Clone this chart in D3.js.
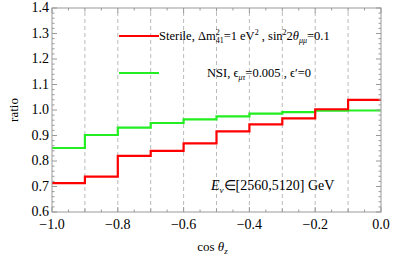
<!DOCTYPE html>
<html>
<head>
<meta charset="utf-8">
<script src="https://cdn.jsdelivr.net/npm/d3@7"></script>
<style>
  body { margin: 0; background: #fff; }
  text { font-family: "Liberation Serif", "Times New Roman", serif; fill: #000; }
</style>
</head>
<body>
<div id="chart"></div>
<script>
// bin edges in cos(theta_z)
const binEdges = [-1.0, -0.9, -0.8, -0.7, -0.6, -0.5, -0.4, -0.3, -0.2, -0.1, 0.0];
// ratio per bin
const sterile = [0.713, 0.739, 0.82, 0.84, 0.869, 0.916, 0.944, 0.967, 1.003, 1.04];
const nsi = [0.851, 0.902, 0.931, 0.949, 0.963, 0.975, 0.986, 0.992, 0.997, 0.998];
const xTicks = [-1.0, -0.8, -0.6, -0.4, -0.2, 0.0];
const yTicks = [0.6, 0.7, 0.8, 0.9, 1.0, 1.1, 1.2, 1.3, 1.4];

const width = 415, height = 260;
const margin = { top: 8, right: 34, bottom: 48, left: 52 };

const svg = d3.select("#chart").append("svg")
  .attr("width", width).attr("height", height);

const x = d3.scaleLinear().domain([-1, 0]).range([margin.left, width - margin.right]);
const y = d3.scaleLinear().domain([0.6, 1.4]).range([height - margin.bottom, margin.top]);

const frameColor = "#999";

// dashed verticals at inner bin edges
svg.append("g").selectAll("line")
  .data(binEdges.slice(1, -1))
  .join("line")
  .attr("x1", d => x(d)).attr("x2", d => x(d))
  .attr("y1", y(0.6)).attr("y2", y(1.4))
  .attr("stroke", "#bbb").attr("stroke-width", 1)
  .attr("stroke-dasharray", "4,3");

// step lines
function steps(vals) {
  const pts = [];
  vals.forEach((v, i) => {
    pts.push([binEdges[i], v]);
    pts.push([binEdges[i + 1], v]);
  });
  return pts;
}
const line = d3.line().x(d => x(d[0])).y(d => y(d[1]));

svg.append("path").datum(steps(nsi))
  .attr("d", line).attr("fill", "none")
  .attr("stroke", "#22ee22").attr("stroke-width", 2.2);
svg.append("path").datum(steps(sterile))
  .attr("d", line).attr("fill", "none")
  .attr("stroke", "#ff0000").attr("stroke-width", 2.2);

// frame
svg.append("rect")
  .attr("x", x(-1)).attr("y", y(1.4))
  .attr("width", x(0) - x(-1)).attr("height", y(0.6) - y(1.4))
  .attr("fill", "none").attr("stroke", frameColor).attr("stroke-width", 1);

// ticks: x major 0.2 minor 0.05, y major 0.1 minor 0.02
const xMinor = d3.range(0, 21).map(i => -1 + i * 0.05);
const yMinor = d3.range(0, 41).map(i => 0.6 + i * 0.02);
const isMaj = (v, s) => Math.abs(v / s - Math.round(v / s)) < 1e-6;

const tk = svg.append("g").attr("stroke", frameColor).attr("stroke-width", 1);
xMinor.forEach(v => {
  const len = isMaj(v, 0.2) ? 5 : (isMaj(v, 0.1) ? 3.5 : 2.5);
  tk.append("line").attr("x1", x(v)).attr("x2", x(v))
    .attr("y1", y(0.6)).attr("y2", y(0.6) - len);
  tk.append("line").attr("x1", x(v)).attr("x2", x(v))
    .attr("y1", y(1.4)).attr("y2", y(1.4) + len);
});
yMinor.forEach(v => {
  const len = isMaj(v, 0.1) ? 5 : 2.5;
  tk.append("line").attr("y1", y(v)).attr("y2", y(v))
    .attr("x1", x(-1)).attr("x2", x(-1) + len);
  tk.append("line").attr("y1", y(v)).attr("y2", y(v))
    .attr("x1", x(0)).attr("x2", x(0) - len);
});

// tick labels
svg.append("g").selectAll("text")
  .data(xTicks).join("text")
  .attr("x", d => x(d)).attr("y", y(0.6) + 17)
  .attr("text-anchor", "middle").attr("font-size", 14)
  .text(d => (d < 0 ? "\u2212" : "") + Math.abs(d).toFixed(1));
svg.append("g").selectAll("text")
  .data(yTicks).join("text")
  .attr("x", x(-1) - 3).attr("y", d => y(d) + 4)
  .attr("text-anchor", "end").attr("font-size", 14)
  .text(d => d.toFixed(1));

// axis titles
svg.append("text")
  .attr("transform", `translate(18,${(y(0.6) + y(1.4)) / 2}) rotate(-90)`)
  .attr("text-anchor", "middle").attr("font-size", 13)
  .text("ratio");
const xt = svg.append("text")
  .attr("x", (x(-1) + x(0)) / 2 - 4).attr("y", 251)
  .attr("text-anchor", "middle").attr("font-size", 13);
xt.append("tspan").text("cos ");
xt.append("tspan").attr("font-style", "italic").text("\u03b8");
xt.append("tspan").attr("font-style", "italic").attr("font-size", 9).attr("dy", 3).text("z");

// legend
svg.append("line").attr("x1", 119).attr("x2", 159).attr("y1", 36).attr("y2", 36)
  .attr("stroke", "#ff0000").attr("stroke-width", 2.2);
svg.append("line").attr("x1", 119).attr("x2", 159).attr("y1", 73).attr("y2", 73)
  .attr("stroke", "#22ee22").attr("stroke-width", 2.2);

const l1 = svg.append("text").attr("x", 159).attr("y", 40).attr("font-size", 12.5);
l1.append("tspan").text("Sterile, \u0394m");
l1.append("tspan").attr("font-size", 8).attr("dy", -5).text("2");
l1.append("tspan").attr("font-size", 8).attr("dx", -4).attr("dy", 8).text("41");
l1.append("tspan").attr("dy", -3).text("=1 eV");
l1.append("tspan").attr("font-size", 8).attr("dy", -5).text("2");
l1.append("tspan").attr("dy", 5).text(" , sin");
l1.append("tspan").attr("font-size", 8).attr("dy", -5).text("2");
l1.append("tspan").attr("dy", 5).text("2");
l1.append("tspan").attr("font-style", "italic").text("\u03b8");
l1.append("tspan").attr("font-style", "italic").attr("font-size", 8).attr("dy", 3).text("\u03bc\u03bc");
l1.append("tspan").attr("dy", -3).text("=0.1");

const l2 = svg.append("text").attr("x", 207).attr("y", 77).attr("font-size", 12.5);
l2.append("tspan").text("NSI, \u03f5");
l2.append("tspan").attr("font-style", "italic").attr("font-size", 8).attr("dy", 3).text("\u03bc\u03c4");
l2.append("tspan").attr("dy", -3).text("=0.005 , \u03f5\u2032=0");

// energy annotation
const ann = svg.append("text").attr("x", 211).attr("y", 190).attr("font-size", 14);
ann.append("tspan").attr("font-style", "italic").text("E");
ann.append("tspan").attr("font-style", "italic").attr("font-size", 9).attr("dy", 3).text("\u03bd");
ann.append("tspan").attr("dy", -3).text("\u2208[2560,5120] GeV");
</script>
</body>
</html>
